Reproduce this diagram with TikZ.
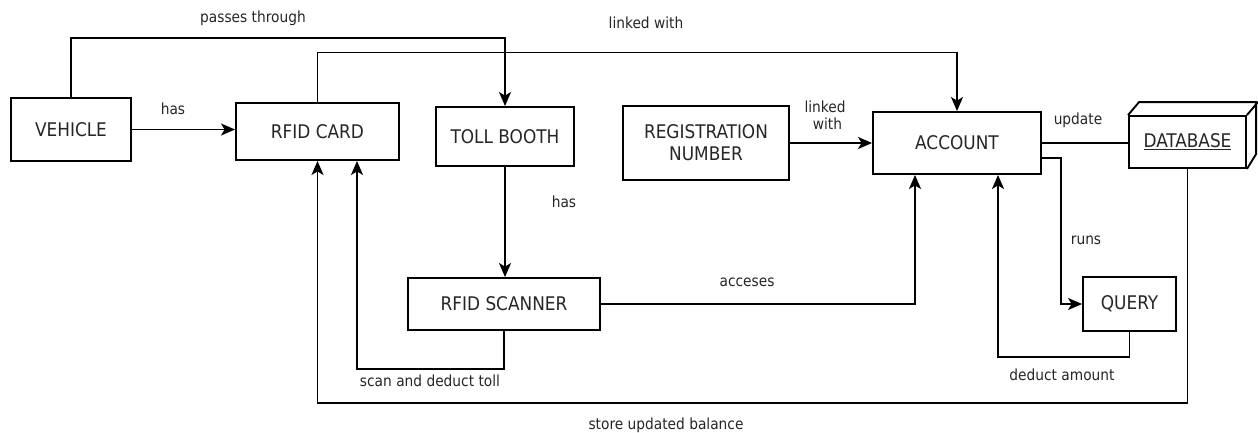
\documentclass[tikz,border=0pt]{standalone}
\usepackage{fontspec}
\setmainfont{DejaVu Sans Condensed}
\usetikzlibrary{arrows.meta,calc}
\tikzset{
  box/.style={draw, line width=1.9pt, minimum width=#1, inner sep=0pt, align=center,
    font=\fontsize{18.8}{22}\selectfont, text=black!85},
  lbl/.style={font=\fontsize{15.3}{17.5}\selectfont, text=black!85, inner sep=0pt, align=center},
  conn/.style={line width=1.9pt},
  arr/.style={line width=1.9pt, -{Stealth[length=14pt,width=12pt,inset=3.5pt]}}
}
\begin{document}
\begin{tikzpicture}[x=1pt,y=1pt]
\useasboundingbox[fill=white] (0,0) rectangle (1258,-432);
% nodes
\node[box=120pt, minimum height=63pt] (veh) at (71,-129.5) {VEHICLE};
\node[box=163pt, minimum height=57pt] (card) at (317.5,-131.5) {RFID CARD};
\node[box=138pt, minimum height=59pt] (toll) at (505,-136.5) {TOLL BOOTH};
\node[box=166pt, minimum height=74pt] (reg) at (706,-143) {REGISTRATION\\NUMBER};
\node[box=168pt, minimum height=62pt] (acct) at (957,-143) {ACCOUNT};
\node[box=117pt, minimum height=52pt] (db) at (1187.5,-142) {\underline{DATABASE}};
\node[box=192pt, minimum height=52pt] (scan) at (504,-304) {RFID SCANNER};
\node[box=93pt, minimum height=54pt] (query) at (1129.5,-304) {QUERY};
% database depth
\draw[conn, line join=miter] (db.north west) -- ++(11,13) -- ++(117,0) -- ++(0,-52) -- (db.south east);
\draw[conn] (db.north east) -- ++(11,13);
% helper coordinates
\coordinate (top1) at (0,-38);
\coordinate (top2) at (0,-52.5);
\coordinate (bot) at (0,-403);
\coordinate (run1) at (1061,-158);
% connectors
\draw[arr] (veh.east) -- (veh.east -| card.west);
\draw[arr] (veh.north) -- (veh.north |- top1) -| (toll.north);
\draw[arr] (card.north) -- (card.north |- top2) -| (acct.north);
\draw[arr] (toll.south) -- (toll.south |- scan.north);
\draw[arr] (reg.east) -- (acct.west);
\draw[conn] (acct.east) -- (acct.east -| db.west);
\draw[arr] (acct.east |- run1) -- (run1) |- (query.west);
\draw[arr] (scan.east) -| ([xshift=-42pt]acct.south);
\draw[arr] (query.south) -- ++(0,-25) -| ([xshift=41pt]acct.south);
\draw[arr] (db.south) -- (db.south |- bot) -| (card.south);
\draw[arr] (scan.south) -- ++(0,-38) -| ([xshift=39.5pt]card.south);
% labels
\node[lbl] (l1) at (253,-18) {passes through};
\node[lbl] (l2) at (646,-23) {linked with};
\node[lbl] (l3) at (173,-109) {has};
\node[lbl] (l4) at (564,-202) {has};
\node[lbl] (l5) at (825,-115) {linked\\\hspace*{5pt}with};
\node[lbl] (l6) at (1078,-120) {update};
\node[lbl] (l7) at (1086,-240) {runs};
\node[lbl] (l8) at (747,-282) {acceses};
\node[lbl] (l9) at (1062,-375) {deduct amount};
\node[lbl] (l10) at (430,-381) {scan and deduct toll};
\node[lbl] (l11) at (666,-425) {store updated balance};
\end{tikzpicture}
\end{document}
